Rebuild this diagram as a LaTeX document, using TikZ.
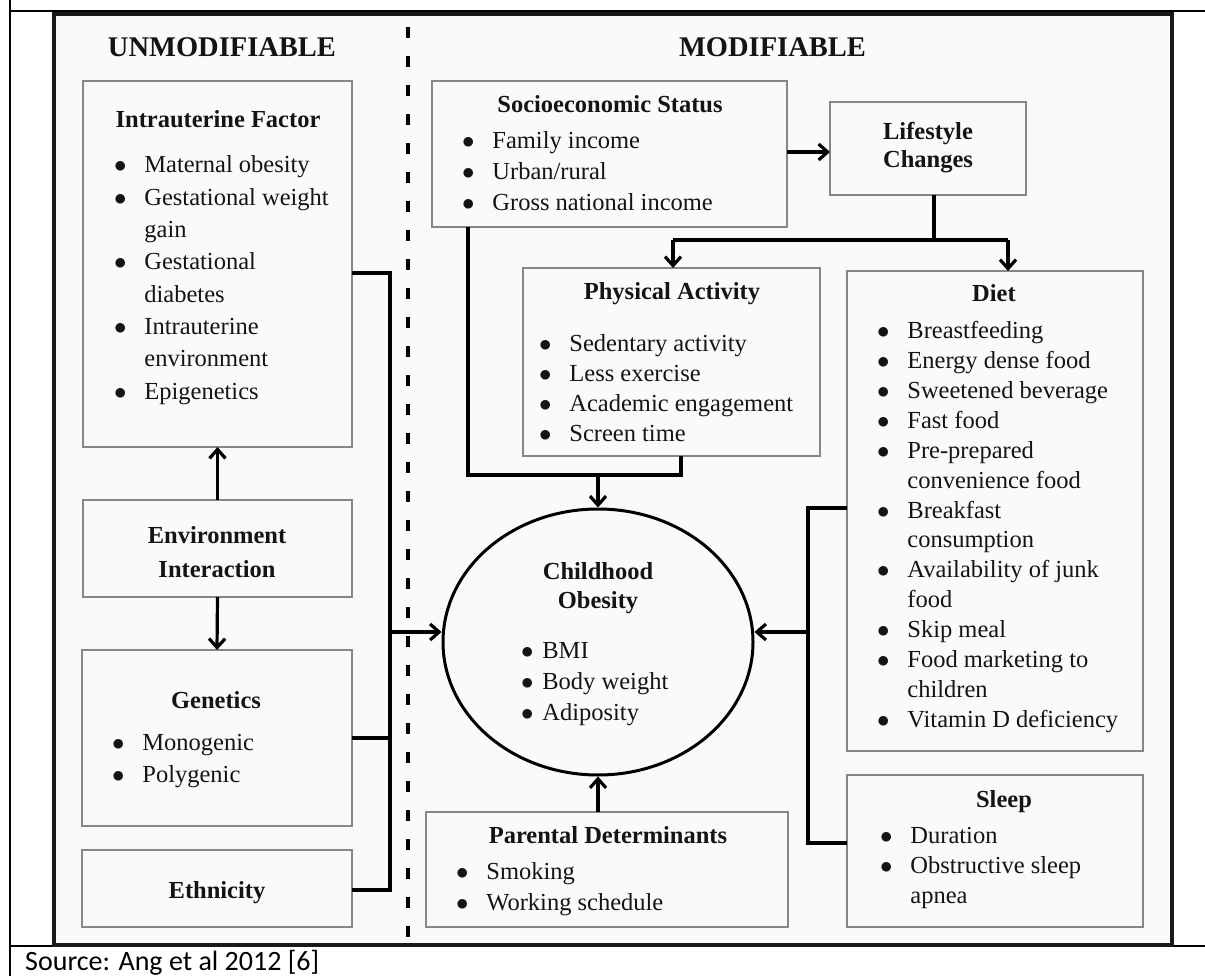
\documentclass[tikz,border=0pt]{standalone}
\usepackage{fontspec}
\setmainfont{Liberation Serif}
\newfontfamily\srcfont{Carlito}
\usetikzlibrary{arrows.meta,shapes.geometric}
\definecolor{boxgray}{RGB}{135,135,135}
\definecolor{ink}{RGB}{20,20,20}
\newlength\bw
\setlength\bw{28.5pt}
\newcommand\bu{\makebox[\bw][l]{\kern-1.8pt$\bullet$}}
\newcommand\nb{\hspace*{\bw}}
\newcommand\lst[2]{\fontsize{24.5}{#1}\selectfont\begin{tabular}[t]{@{}l@{}}#2\end{tabular}}
\newcommand\ctr[1]{\begin{tabular}[t]{@{}c@{}}#1\end{tabular}}
\begin{document}
\begin{tikzpicture}[x=1pt,y=-1pt,
  box/.style={draw=boxgray, line width=1.4pt, inner sep=0pt, outer sep=0pt, anchor=north west},
  ttl/.style={font=\bfseries\fontsize{24.5}{28}\selectfont, text=ink, anchor=base, inner sep=0pt},
  hdr/.style={font=\bfseries\fontsize{28.5}{32}\selectfont, text=ink, anchor=base, inner sep=0pt},
  lsty/.style={anchor=base west, inner sep=0pt, text=ink},
  conn/.style={line width=3.2pt, draw=black},
  arr/.style={conn, -{Straight Barb[length=9pt,width=16pt]}}]
\useasboundingbox (0,0) rectangle (1205,976);
\fill[white] (0,0) rectangle (1205,976);
% table lines
\draw[line width=1.5pt] (10,0) -- (10,976);
\draw[line width=2pt] (10,11) -- (1205,11);
\draw[line width=2pt] (10,945.5) -- (1205,945.5);
% figure frame
\fill[white!98!black] (54,14) rectangle (1172,945);
\draw[line width=4pt, draw=black!90] (54,14) rectangle (1172,945);
% dashed divider
\draw[line width=4pt, dash pattern=on 11pt off 18pt] (408,27) -- (408,940);
% headers
\node[hdr] (unmod) at (222,57) {UNMODIFIABLE};
\node[hdr] (mod) at (772.5,57) {MODIFIABLE};
% boxes
\node[box, minimum width=269pt, minimum height=366pt] (intra) at (83,81) {};
\node[box, minimum width=269pt, minimum height=97pt] (env) at (83,500) {};
\node[box, minimum width=270pt, minimum height=176pt] (gen) at (82,650) {};
\node[box, minimum width=270pt, minimum height=77pt] (eth) at (82,850) {};
\node[box, minimum width=355pt, minimum height=146pt] (socio) at (432,81) {};
\node[box, minimum width=196pt, minimum height=93pt] (lif) at (830,102) {};
\node[box, minimum width=297pt, minimum height=188pt] (phys) at (523,268) {};
\node[box, minimum width=296pt, minimum height=480pt] (diet) at (847,271) {};
\node[box, minimum width=296pt, minimum height=152pt] (sleep) at (847,775) {};
\node[box, minimum width=362pt, minimum height=115pt] (par) at (426,812) {};
\node[ellipse, draw=black, line width=3pt, minimum width=310pt, minimum height=266pt, inner sep=0pt] (obes) at (598,642) {};
% titles
\node[ttl] (intraT) at (218,128) {Intrauterine Factor};
\node[ttl, font=\bfseries\fontsize{24.5}{34}\selectfont] (envT) at (217,543) {\ctr{Environment\\Interaction}};
\node[ttl] (genT) at (216,708) {Genetics};
\node[ttl] (ethT) at (217,898) {Ethnicity};
\node[ttl] (socioT) at (610,113) {Socioeconomic Status};
\node[ttl] (lifT) at (928,140) {\ctr{Lifestyle\\Changes}};
\node[ttl] (physT) at (672,300) {Physical Activity};
\node[ttl] (dietT) at (994,302) {Diet};
\node[ttl] (sleepT) at (1004,807) {Sleep};
\node[ttl] (parT) at (608,843) {Parental Determinants};
\node[ttl, font=\bfseries\fontsize{24.5}{29}\selectfont] (obesT) at (598,579) {\ctr{Childhood\\Obesity}};
% lists
\node[lsty] (intraL) at (115.7,173) {\lst{32.3}{\bu Maternal obesity\\ \bu Gestational weight\\ \nb gain\\ \bu Gestational\\ \nb diabetes\\ \bu Intrauterine\\ \nb environment\\ \bu Epigenetics}};
\node[lsty] (genL) at (113.7,750) {\lst{32}{\bu Monogenic\\ \bu Polygenic}};
\node[lsty] (socioL) at (463.7,149) {\lst{31}{\bu Family income\\ \bu Urban/rural\\ \bu Gross national income}};
\node[lsty] (physL) at (540.7,352) {\lst{30}{\bu Sedentary activity\\ \bu Less exercise\\ \bu Academic engagement\\ \bu Screen time}};
\node[lsty] (dietL) at (878.7,338) {\lst{30}{\bu Breastfeeding\\ \bu Energy dense food\\ \bu Sweetened beverage\\ \bu Fast food\\ \bu Pre-prepared\\ \nb convenience food\\ \bu Breakfast\\ \nb consumption\\ \bu Availability of junk\\ \nb food\\ \bu Skip meal\\ \bu Food marketing to\\ \nb children\\ \bu Vitamin D deficiency}};
\node[lsty] (sleepL) at (881.7,843) {\lst{30}{\bu Duration\\ \bu Obstructive sleep\\ \nb apnea}};
\node[lsty] (parL) at (457.7,879) {\lst{31}{\bu Smoking\\ \bu Working schedule}};
\node[lsty] (obesL) at (522.7,658) {\setlength\bw{19.5pt}\lst{31}{\bu BMI\\ \bu Body weight\\ \bu Adiposity}};
% source
\node[anchor=base west, inner sep=0pt, font=\srcfont\fontsize{28}{32}\selectfont] (src) at (25,970) {Source: Ang et al 2012 [6]};
% connectors: unmodifiable side
\coordinate (lc) at (390,632);
\draw[arr] (env.north) -- (intra.south);
\draw[arr] (env.south) -- (gen.north);
\draw[conn] (intra.east |- 0,273) -- (390,273) -- (390,890) -- (eth.east |- 0,890);
\draw[conn] (gen.east |- 0,738) -- (390,738);
\draw[arr] (lc) -- (obes.west |- lc);
% modifiable side
\draw[arr] (socio.east |- 0,152) -- (lif.west |- 0,152);
\draw[conn] (lif.south -| 934,0) -- (934,240);
\draw[conn] (673,240) -- (1008,240);
\draw[arr] (673,240) -- (phys.north -| 673,0);
\draw[arr] (1008,240) -- (diet.north -| 1008,0);
\draw[conn] (socio.south -| 468,0) -- (468,475) -- (681,475) -- (phys.south -| 681,0);
\draw[arr] (598,475) -- (obes.north);
\coordinate (rc) at (808,632);
\draw[conn] (diet.west |- 0,508) -- (808,508) -- (808,843) -- (sleep.west |- 0,843);
\draw[arr] (rc) -- (obes.east |- rc);
\draw[arr] (par.north -| obes) -- (obes.south);
\end{tikzpicture}
\end{document}
